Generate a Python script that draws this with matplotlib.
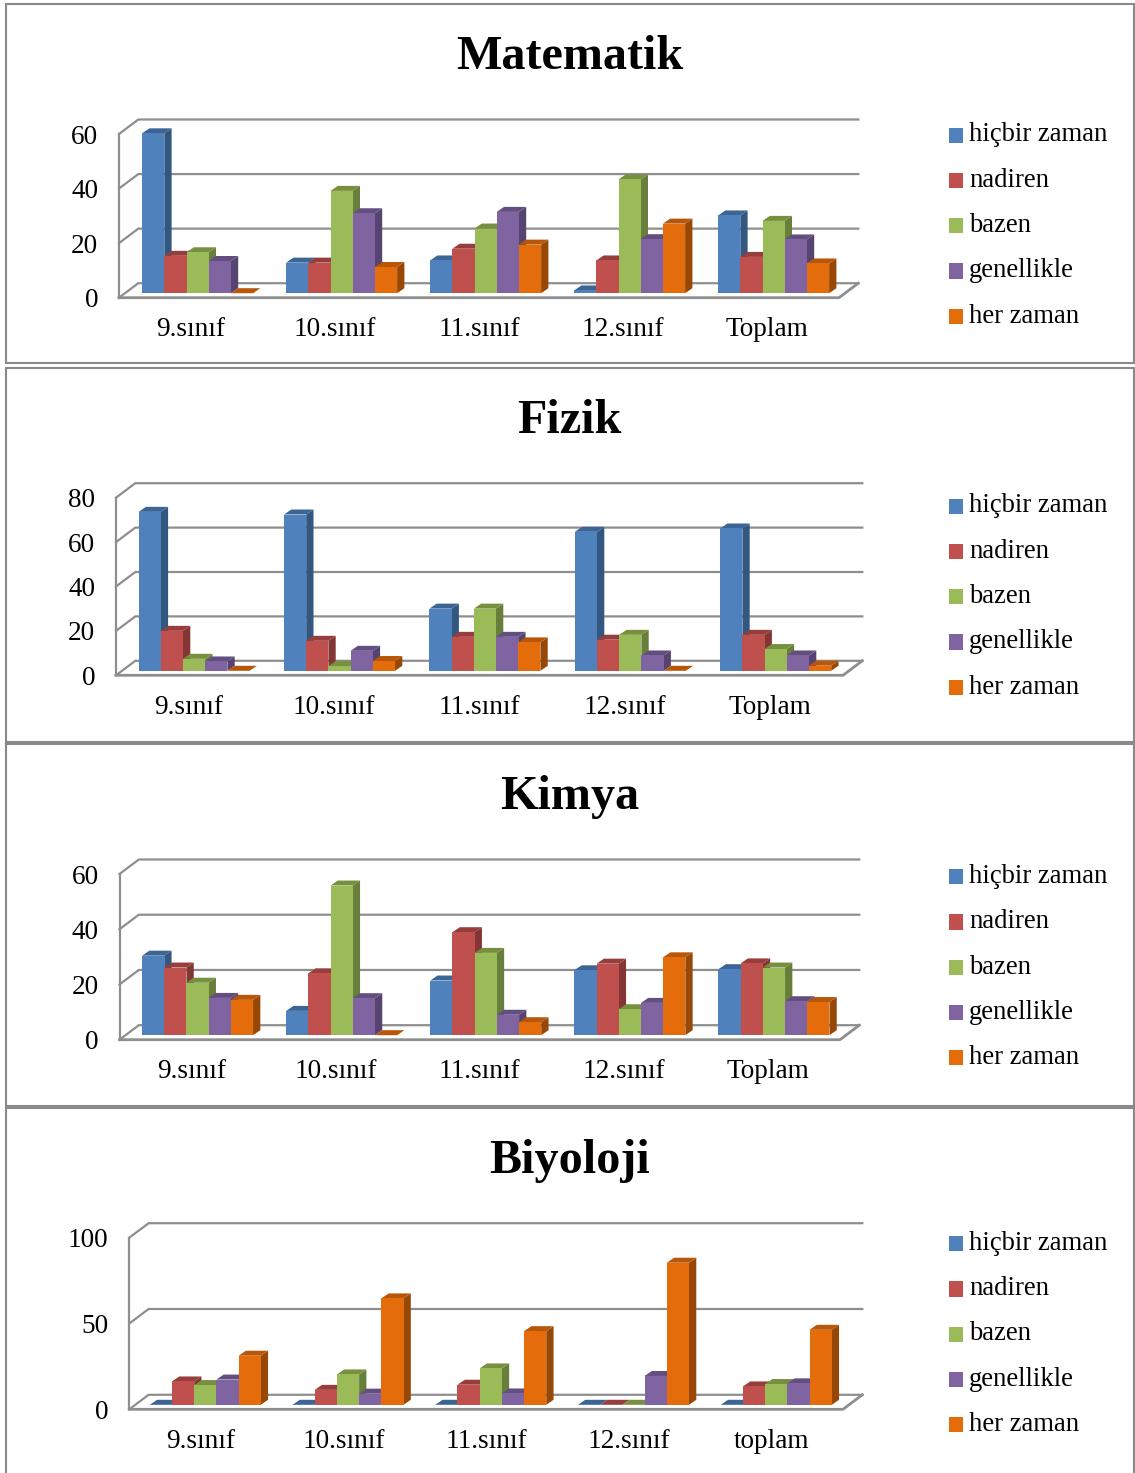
import matplotlib
matplotlib.use('Agg')
import matplotlib.pyplot as plt
from matplotlib.patches import Rectangle
from matplotlib.legend_handler import HandlerPatch

W, H = 1135, 1473
plt.rcParams['font.family'] = ['Liberation Serif', 'DejaVu Serif']

series_names = ['hiçbir zaman', 'nadiren', 'bazen', 'genellikle', 'her zaman']
classes = ['9.sınıf', '10.sınıf', '11.sınıf', '12.sınıf', 'Toplam']
classes_bio = ['9.sınıf', '10.sınıf', '11.sınıf', '12.sınıf', 'toplam']

# values, one list per series
mat_hicbir = [58.6, 11.2, 12, 1, 28.5]
mat_nadiren = [13.7, 11.2, 16.3, 12, 13.3]
mat_bazen = [15, 37.5, 23.7, 41.7, 26.5]
mat_genel = [11.8, 29.3, 29.8, 19.8, 19.7]
mat_her = [0, 9.6, 17.8, 25.5, 10.9]

fiz_hicbir = [71.6, 70.4, 28, 62.6, 64.1]
fiz_nadiren = [18, 13.5, 15.3, 14, 16.2]
fiz_bazen = [5.4, 2.1, 28, 16.2, 9.8]
fiz_genel = [4.2, 9, 15.3, 6.9, 6.9]
fiz_her = [0, 4.4, 12.8, 0, 2.3]

kim_hicbir = [28.8, 8.8, 19.8, 23.5, 23.9]
kim_nadiren = [24.5, 22.4, 37.3, 25.9, 26]
kim_bazen = [19, 54.2, 29.8, 9.4, 24.5]
kim_genel = [13.5, 13.4, 7.4, 11.7, 12.3]
kim_her = [12.8, 0, 4.7, 28.2, 12]

bio_hicbir = [0, 0, 0, 0, 0]
bio_nadiren = [13.6, 8.7, 11.7, 0, 10.7]
bio_bazen = [11.5, 17.7, 21.2, 0, 12.1]
bio_genel = [14.7, 6.5, 6.6, 16.8, 12.5]
bio_her = [28.6, 62, 42.9, 82.8, 43.7]

front_colors = ['#4F81BD', '#C0504D', '#9BBB59', '#8064A2', '#E46C0A']
side_colors = ['#325780', '#833634', '#677F3A', '#574370', '#974806']
top_colors = ['#3C6595', '#973E3C', '#76903F', '#634E80', '#B85709']
line_color = '#8E8E8E'
frame_color = '#8A8A8A'

TICK_FS = 19.6
LEG_FS = 19.2
BAR_W = 22.2   # px
BAR_DX, BAR_DY = 7.3, 5.0
WALL_DX, WALL_DY = 19.3, 14.5
LIFT = 4.5


def add_frame(top, bottom):
    fig.add_artist(Rectangle((5.5 / W, 1 - bottom / H), 1128 / W, (bottom - top) / H,
                             transform=fig.transFigure, fill=False,
                             edgecolor=frame_color, linewidth=1.5))


def swatch(legend, orig_handle, xdescent, ydescent, width, height, fontsize):
    # sits on the text baseline like the original legend
    return Rectangle((-xdescent, -1.0), width, height)


def draw_panel(title, title_y, frame, cats, data, ticks, left, right, floor, top, leg_y, shift):
    add_frame(*frame)
    fig.text(569.5 / W, 1 - title_y / H, title, fontsize=34.7, fontweight='bold',
             ha='center', va='baseline')

    ax = fig.add_axes([left / W, 1 - floor / H, (right - left) / W, (floor - top) / H])
    ax.patch.set_visible(False)
    for s in ax.spines.values():
        s.set_visible(False)
    ax.set_xlim(0, 5)
    ax.set_ylim(0, ticks[-1])

    # px to data conversion
    px = 5 / (right - left)
    py = ticks[-1] / (floor - top)
    wx, wy = WALL_DX * px, WALL_DY * py

    # walls and gridlines
    for t in ticks:
        ax.plot([0, wx, 5 + wx], [t, t + wy, t + wy], color=line_color, lw=1.6,
                clip_on=False, zorder=1, solid_joinstyle='miter')
    ax.plot([0, 0], [0, ticks[-1]], color=line_color, lw=1.6, clip_on=False, zorder=1)
    ax.plot([0, 5, 5 + wx], [0, 0, wy], color=line_color, lw=2.0, clip_on=False, zorder=1)

    # bars, left to right so each one covers the side of the one before
    w = BAR_W * px
    bx, by = BAR_DX * px, BAR_DY * py
    z = 2
    for c in range(5):
        x0 = c + 0.5 + shift * px - 2.5 * w
        for s in range(5):
            v = data[s][c]
            xl = x0 + s * w
            xr = xl + w
            y0 = LIFT * py
            y1 = y0 + v
            ax.fill([xr, xr + bx, xr + bx, xr], [y0, y0 + by, y1 + by, y1],
                    color=side_colors[s], lw=0, clip_on=False, zorder=z)
            ax.fill([xl, xr, xr + bx, xl + bx], [y1, y1, y1 + by, y1 + by],
                    color=top_colors[s], lw=0, clip_on=False, zorder=z)
            if v > 0:
                ax.bar(xl, v, width=w, bottom=y0, align='edge', color=front_colors[s],
                       linewidth=0, clip_on=False, zorder=z + 0.5)
            z += 1

    ax.set_xticks([i + 0.5 for i in range(5)], cats)
    ax.set_yticks(ticks)
    ax.tick_params(axis='both', length=0, labelsize=TICK_FS)
    ax.tick_params(axis='x', pad=14)
    ax.tick_params(axis='y', pad=15)

    # legend
    handles = [Rectangle((0, 0), 1, 1, color=c, lw=0) for c in front_colors]
    fs_px = LEG_FS * 100 / 72
    ax.legend(handles, series_names, loc='center left',
              bbox_to_anchor=(949 / W, 1 - leg_y / H), bbox_transform=fig.transFigure,
              frameon=False, fontsize=LEG_FS, borderpad=0, borderaxespad=0,
              handlelength=13.5 / fs_px, handleheight=13.5 / fs_px,
              handletextpad=6.5 / fs_px, labelspacing=0.76,
              handler_map={Rectangle: HandlerPatch(patch_func=swatch)})


fig = plt.figure(figsize=(W / 100, H / 100), dpi=100, facecolor='white')

draw_panel('Matematik', 69, (4, 363), classes,
           [mat_hicbir, mat_nadiren, mat_bazen, mat_genel, mat_her],
           [0, 20, 40, 60], 119, 839, 297.7, 134, 225.5, 6.6)
draw_panel('Fizik', 433, (368, 742), classes,
           [fiz_hicbir, fiz_nadiren, fiz_bazen, fiz_genel, fiz_her],
           [0, 20, 40, 60, 80], 116, 843, 675.3, 497.7, 596.5, 5.4)
draw_panel('Kimya', 809, (744, 1106), classes,
           [kim_hicbir, kim_nadiren, kim_bazen, kim_genel, kim_her],
           [0, 20, 40, 60], 119.5, 840, 1039.7, 874, 967, 6.0)
draw_panel('Biyoloji', 1173, (1108, 1490), classes_bio,
           [bio_hicbir, bio_nadiren, bio_bazen, bio_genel, bio_her],
           [0, 50, 100], 129.3, 843, 1409.3, 1237.7, 1334, 4.6)

fig.savefig('out.png', dpi=100)
